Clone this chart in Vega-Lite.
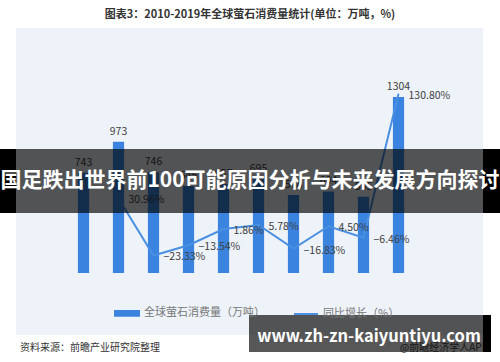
{
  "$schema": "https://vega.github.io/schema/vega-lite/v6.json",
  "width": 350,
  "height": 189,
  "autosize": "none",
  "padding": {"left": 66, "top": 84, "right": 84, "bottom": 89},
  "background": "white",
  "config": {
    "font": "Noto Sans CJK SC",
    "view": {"stroke": null},
    "axis": {"domain": false, "ticks": false, "labelFont": "Noto Sans CJK SC", "labelColor": "#595959", "labelFontSize": 10}
  },
  "data": {
    "values": [
      {"year": "2010年", "consumption": 743, "growth": null},
      {"year": "2011年", "consumption": 973, "growth": 0.3096},
      {"year": "2012年", "consumption": 746, "growth": -0.2333},
      {"year": "2013年", "consumption": 645, "growth": -0.1354},
      {"year": "2014年", "consumption": 657, "growth": 0.0186},
      {"year": "2015年", "consumption": 695, "growth": 0.0578},
      {"year": "2016年", "consumption": 578, "growth": -0.1683},
      {"year": "2017年", "consumption": 604, "growth": 0.045},
      {"year": "2018年", "consumption": 565, "growth": -0.0646},
      {"year": "2019年", "consumption": 1304, "growth": 1.308}
    ]
  },
  "layer": [
    {
      "data": {"values": [{}]},
      "mark": {"type": "rect", "color": "#eef2f9", "x": -50, "x2": 417, "y": -56, "y2": 251}
    },
    {
      "data": {"values": [{}]},
      "mark": {"type": "text", "text": "图表3：2010-2019年全球萤石消费量统计(单位：万吨，%)", "x": 184, "y": -69, "align": "center", "baseline": "middle", "fontSize": 11, "fontWeight": "bold", "color": "#333333"}
    },
    {
      "encoding": {
        "x": {
          "field": "year", "type": "ordinal",
          "scale": {"paddingInner": 0.68, "paddingOuter": 0.34},
          "axis": {"labelAngle": 0, "title": null, "labelPadding": 11, "labelFontSize": 10.5, "labelColor": "#595959"}
        },
        "y": {
          "field": "consumption", "type": "quantitative",
          "scale": {"domain": [0, 1400], "nice": false},
          "axis": {"orient": "left", "title": null, "values": [0, 200, 400, 600, 800, 1000, 1200, 1400], "grid": true, "gridColor": "#dce1ea", "labelPadding": 9, "labelColor": "#666666"}
        }
      },
      "layer": [
        {
          "mark": {"type": "bar"},
          "encoding": {
            "color": {
              "datum": "全球萤石消费量（万吨）",
              "scale": {"domain": ["全球萤石消费量（万吨）", "同比增长（%）"], "range": ["#3a84e0", "#4a90e2"]},
              "legend": {
                "orient": "none",
                "legendX": 48,
                "legendY": 216,
                "direction": "horizontal",
                "title": null,
                "symbolSize": 576,
                "labelFontSize": 11,
                "labelColor": "#777777",
                "labelFont": "Noto Sans CJK SC",
                "columnPadding": 25,
                "encode": {
                  "symbols": {
                    "update": {
                      "shape": {"signal": "datum.value === '同比增长（%）' ? 'stroke' : 'M-1,-0.2H1V0.2H-1Z'"},
                      "fill": {"signal": "datum.value === '同比增长（%）' ? 'transparent' : '#3a84e0'"},
                      "stroke": {"signal": "datum.value === '同比增长（%）' ? '#4a90e2' : 'transparent'"},
                      "strokeWidth": {"value": 2},
                      "opacity": {"value": 1}
                    }
                  }
                }
              }
            }
          }
        },
        {
          "mark": {"type": "text", "baseline": "middle", "dy": -10, "fontSize": 10.5, "color": "#404040"},
          "encoding": {"text": {"field": "consumption", "type": "quantitative"}}
        }
      ]
    },
    {
      "transform": [{"filter": "datum.growth != null"}],
      "encoding": {
        "x": {"field": "year", "type": "ordinal"},
        "y": {
          "field": "growth", "type": "quantitative",
          "scale": {"domain": [-0.4, 1.4], "nice": false},
          "axis": {"orient": "right", "title": null, "labelExpr": "replace(format(datum.value, '.0%'), '−', '-')", "values": [-0.4, -0.2, 0, 0.2, 0.4, 0.6, 0.8, 1, 1.2, 1.4], "grid": false, "labelPadding": 12, "labelColor": "#666666"}
        }
      },
      "layer": [
        {
          "mark": {"type": "line", "strokeWidth": 2},
          "encoding": {"color": {"datum": "同比增长（%）"}}
        },
        {
          "mark": {"type": "text", "align": "left", "baseline": "middle", "dx": 10, "dy": 2, "fontSize": 10.5, "color": "#404040"},
          "encoding": {"text": {"field": "growth", "type": "quantitative", "format": ".2%"}}
        }
      ]
    },
    {
      "data": {"values": [{}]},
      "mark": {"type": "text", "text": "资料来源：前瞻产业研究院整理", "x": -46, "y": 264, "align": "left", "baseline": "middle", "fontSize": 10, "color": "#333333"}
    },
    {
      "data": {"values": [{}]},
      "mark": {"type": "text", "text": "@前瞻经济学人APP", "x": 422, "y": 264, "align": "right", "baseline": "middle", "fontSize": 10, "color": "#444444"}
    },
    {
      "data": {"values": [{}]},
      "mark": {"type": "rect", "color": "#000000", "opacity": 0.66, "x": -50, "x2": 417, "y": 65, "y2": 129}
    },
    {
      "data": {"values": [{}]},
      "mark": {"type": "rect", "color": "#000000", "x": -66, "x2": -50, "y": 65, "y2": 129}
    },
    {
      "data": {"values": [{}]},
      "mark": {"type": "rect", "color": "#000000", "x": 417, "x2": 434, "y": 65, "y2": 129}
    },
    {
      "data": {"values": [{}]},
      "mark": {"type": "text", "text": "国足跌出世界前100可能原因分析与未来发展方向探讨", "x": 184, "y": 97, "align": "center", "baseline": "middle", "fontSize": 21, "fontWeight": "bold", "color": "#ffffff", "font": "Noto Sans CJK SC"}
    },
    {
      "data": {"values": [{}]},
      "mark": {"type": "rect", "color": "#000000", "opacity": 0.66, "x": 183, "x2": 417, "y": 231, "y2": 268}
    },
    {
      "data": {"values": [{}]},
      "mark": {"type": "rect", "color": "#000000", "x": 417, "x2": 425, "y": 231, "y2": 268}
    },
    {
      "data": {"values": [{}]},
      "mark": {"type": "text", "text": "www.zh-zn-kaiyuntiyu.com", "x": 303, "y": 253, "align": "center", "baseline": "middle", "fontSize": 16.5, "fontWeight": "bold", "color": "#ffffff", "font": "Noto Sans CJK SC"}
    }
  ],
  "resolve": {"scale": {"y": "independent"}}
}
